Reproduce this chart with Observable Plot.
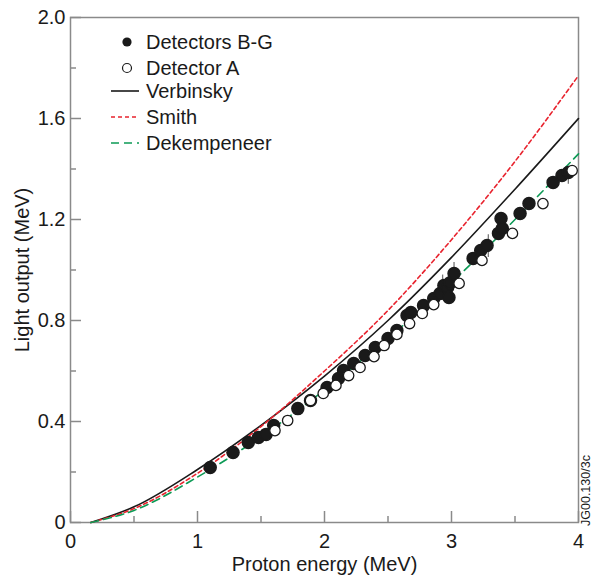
<!DOCTYPE html>
<html>
<head>
<meta charset="utf-8">
<script src="https://cdn.jsdelivr.net/npm/d3@7"></script>
<script src="https://cdn.jsdelivr.net/npm/@observablehq/plot@0.6"></script>
<style>
  html, body { margin: 0; padding: 0; background: #fff; }
  #wrap { position: relative; width: 593px; height: 579px; font-family: "Liberation Sans", Arial, sans-serif; }
  #legend { position: absolute; left: 0; top: 0; }
</style>
</head>
<body>
<div id="wrap"></div>
<script>
// ---- Data ----
// Detectors B-G (filled)
const bgX = [1.10, 1.28, 1.40, 1.48, 1.54, 1.60, 1.79, 1.89, 2.02, 2.11, 2.15, 2.23, 2.32, 2.40, 2.50, 2.57, 2.65, 2.68, 2.78, 2.86, 2.91, 2.94, 2.97, 2.98, 2.99, 3.02, 3.17, 3.23, 3.28, 3.37, 3.39, 3.40, 3.54, 3.61, 3.80, 3.87, 3.92];
const bgY = [0.218, 0.277, 0.317, 0.337, 0.349, 0.384, 0.451, 0.483, 0.535, 0.570, 0.602, 0.630, 0.661, 0.693, 0.729, 0.760, 0.820, 0.832, 0.859, 0.887, 0.907, 0.939, 0.931, 0.891, 0.950, 0.986, 1.046, 1.077, 1.097, 1.145, 1.204, 1.164, 1.224, 1.263, 1.347, 1.374, 1.386];
// Detector A (open)
const aX = [1.61, 1.71, 1.89, 1.99, 2.09, 2.19, 2.28, 2.39, 2.47, 2.57, 2.67, 2.77, 2.86, 3.06, 3.24, 3.48, 3.72, 3.95];
const aY = [0.364, 0.404, 0.483, 0.511, 0.543, 0.582, 0.614, 0.657, 0.701, 0.745, 0.788, 0.828, 0.863, 0.947, 1.038, 1.145, 1.263, 1.394];
// Error bars
const errX = [2.93, 3.02, 3.29, 3.92];
const errLo = [0.88, 0.95, 1.05, 1.34];
const errHi = [0.98, 1.03, 1.14, 1.41];
// Model curves
const curveX = [0.16, 0.5, 1.0, 1.5, 2.0, 2.5, 3.0, 3.5, 4.0];
const verbinskyY = [0, 0.062, 0.21, 0.385, 0.58, 0.80, 1.05, 1.32, 1.60];
const smithY = [0, 0.055, 0.195, 0.38, 0.60, 0.84, 1.12, 1.43, 1.77];
const dekempeneerY = [0, 0.048, 0.18, 0.34, 0.525, 0.73, 0.95, 1.20, 1.46];
// Ticks
const xTicks = [0, 1, 2, 3, 4];
const xMinor = [0.5, 1.5, 2.5, 3.5];
const yTicks = [0, 0.4, 0.8, 1.2, 1.6, 2.0];
const yMinor = [0.2, 0.6, 1.0, 1.4, 1.8];
const legendLabels = ["Detectors B-G", "Detector A", "Verbinsky", "Smith", "Dekempeneer"];

const RED = "#e8232e", GREEN = "#0c9a55", AXIS = "#8a8a8a", INK = "#1a1a1a";

const bg = bgX.map((x, i) => ({x, y: bgY[i]}));
const da = aX.map((x, i) => ({x, y: aY[i]}));
const err = errX.map((x, i) => ({x, lo: errLo[i], hi: errHi[i]}));
const mk = ys => curveX.map((x, i) => ({x, y: ys[i]}));

const chart = Plot.plot({
  width: 593, height: 579,
  marginLeft: 70, marginRight: 15, marginTop: 17, marginBottom: 57,
  style: {fontFamily: "Liberation Sans, Arial, sans-serif", fontSize: "20px", color: INK, background: "white"},
  x: {domain: [0, 4]},
  y: {domain: [0, 2]},
  marks: [
    Plot.frame({stroke: AXIS, strokeWidth: 1.5}),
    Plot.axisX({ticks: xTicks, tickSize: 0, tickPadding: 11, tickFormat: d => String(d), fontSize: 20,
      label: "Proton energy (MeV)", labelAnchor: "center", labelOffset: 48, labelArrow: "none"}),
    Plot.axisX({ticks: xTicks, tickSize: -11, tickFormat: () => "", label: null, stroke: AXIS, strokeWidth: 1.5}),
    Plot.axisX({ticks: xMinor, tickSize: -6, tickFormat: () => "", label: null, stroke: AXIS, strokeWidth: 1.5}),
    Plot.axisY({ticks: yTicks, tickSize: 0, tickPadding: 5, tickFormat: d => d === 0 ? "0" : d.toFixed(1), fontSize: 20,
      label: "Light output (MeV)", labelAnchor: "center", labelOffset: 56, labelArrow: "none"}),
    Plot.axisY({ticks: yTicks, tickSize: -11, tickFormat: () => "", label: null, stroke: AXIS, strokeWidth: 1.5}),
    Plot.axisY({ticks: yMinor, tickSize: -6, tickFormat: () => "", label: null, stroke: AXIS, strokeWidth: 1.5}),
    Plot.line(mk(verbinskyY), {x: "x", y: "y", curve: "monotone-x", stroke: INK, strokeWidth: 1.6}),
    Plot.line(mk(smithY), {x: "x", y: "y", curve: "monotone-x", stroke: RED, strokeWidth: 1.6, strokeDasharray: "4,3"}),
    Plot.line(mk(dekempeneerY), {x: "x", y: "y", curve: "monotone-x", stroke: GREEN, strokeWidth: 1.6, strokeDasharray: "8,5"}),
    Plot.ruleX(err, {x: "x", y1: "lo", y2: "hi", stroke: "#777", strokeWidth: 1.3}),
    Plot.dot(bg, {x: "x", y: "y", r: 6, fill: INK, stroke: INK}),
    Plot.dot(da, {x: "x", y: "y", r: 5.2, fill: "white", stroke: INK, strokeWidth: 1.3})
  ]
});
const wrap = document.getElementById("wrap");
wrap.appendChild(chart);

// Legend overlay
const lg = d3.select(wrap).append("svg").attr("id", "legend").attr("width", 593).attr("height", 579)
  .style("pointer-events", "none");
const rows = [42, 68, 91, 117, 143];
legendLabels.forEach((t, i) => {
  const cy = rows[i];
  if (i === 0) lg.append("circle").attr("cx", 127).attr("cy", cy).attr("r", 4.6).attr("fill", INK);
  else if (i === 1) lg.append("circle").attr("cx", 127).attr("cy", cy).attr("r", 4.5).attr("fill", "white").attr("stroke", INK).attr("stroke-width", 1.2);
  else {
    const s = i === 2 ? [INK, null] : i === 3 ? [RED, "4,3"] : [GREEN, "8,5"];
    lg.append("line").attr("x1", 111).attr("x2", 139).attr("y1", cy).attr("y2", cy)
      .attr("stroke", s[0]).attr("stroke-width", 1.6).attr("stroke-dasharray", s[1]);
  }
  lg.append("text").attr("x", 146).attr("y", cy + 7).text(t)
    .attr("font-family", "Liberation Sans, Arial, sans-serif").attr("font-size", 20).attr("fill", INK);
});
lg.append("text").attr("transform", "translate(590,526) rotate(-90)").text("JG00.130/3c")
  .attr("font-family", "Liberation Sans, Arial, sans-serif").attr("font-size", 12.5).attr("fill", INK);
</script>
</body>
</html>
